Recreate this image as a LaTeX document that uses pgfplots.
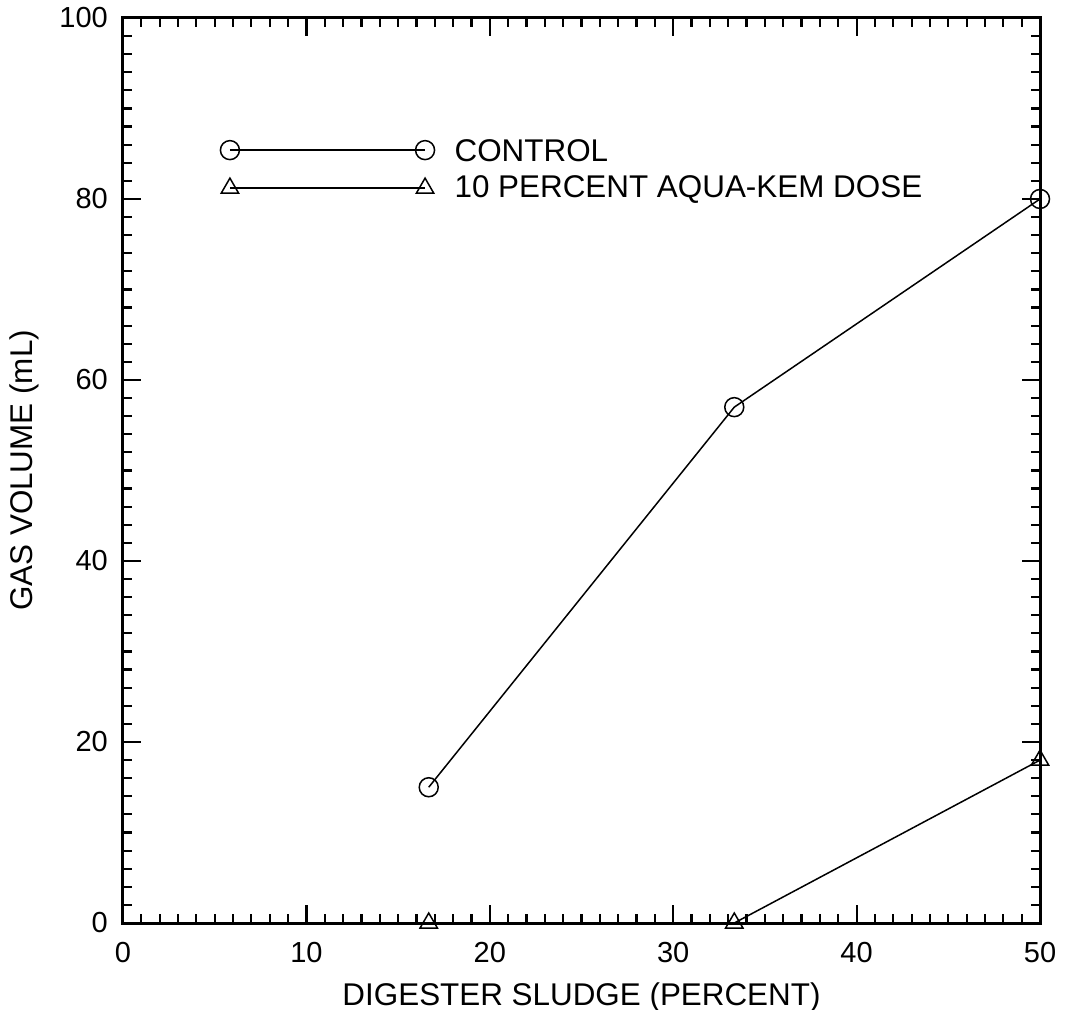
\documentclass[border=0pt]{standalone}
\usepackage{pgfplots}
\pgfplotsset{compat=1.18}
\usepackage{fontspec}
\setmainfont{Liberation Sans}
\begin{document}
\begin{tikzpicture}
\begin{axis}[
  scale only axis, width=458.5pt, height=452.5pt,
  xmin=0, xmax=50, ymin=0, ymax=100,
  xtick={0,10,...,50}, ytick={0,20,...,100},
  minor x tick num=9, minor y tick num=9,
  tick align=inside,
  major tick length=9pt, minor tick length=4.5pt,
  line width=1.5pt,
  every tick/.style={black, line width=1.1pt},
  tick label style={font=\fontsize{14.5}{16}\selectfont},
  xticklabel style={yshift=-5.5pt},
  yticklabel style={xshift=-3.5pt},
  /pgf/number format/assume math mode=true,
  xlabel={DIGESTER SLUDGE (PERCENT)},
  ylabel={GAS VOLUME (mL)},
  label style={font=\fontsize{15.7}{18}\selectfont},
  xlabel style={at={(axis description cs:0.5,0)}, anchor=base, yshift=-41pt},
  ylabel style={at={(axis description cs:0,0.5)}, anchor=base, yshift=45pt},
  clip=false,
]
\addplot[black, line width=0.75pt, mark=o, mark size=4.75pt] coordinates {(16.67,15) (33.33,57) (50,80)};
\addplot[black, line width=0.75pt, mark=triangle, mark size=5pt] coordinates {(16.67,0) (33.33,0) (50,18)};
% legend drawn in data coordinates
\addplot[black, line width=0.75pt, mark=o, mark size=4.75pt] coordinates {(5.83,85.4) (16.47,85.4)};
\addplot[black, line width=0.75pt, mark=triangle, mark size=5pt] coordinates {(5.83,81.2) (16.47,81.2)};
\node[anchor=west, inner sep=0pt, font=\fontsize{15.7}{18}\selectfont] at (axis cs:18.0,85.3) {CONTROL};
\node[anchor=west, inner sep=0pt, font=\fontsize{15.7}{18}\selectfont] at (axis cs:18.0,81.0) {10 PERCENT AQUA-KEM DOSE};
\end{axis}
\pgfresetboundingbox
\path ([shift={(-61.5pt,-43pt)}]current axis.south west) rectangle ([shift={(13.5pt,9pt)}]current axis.north east);
\end{tikzpicture}
\end{document}
